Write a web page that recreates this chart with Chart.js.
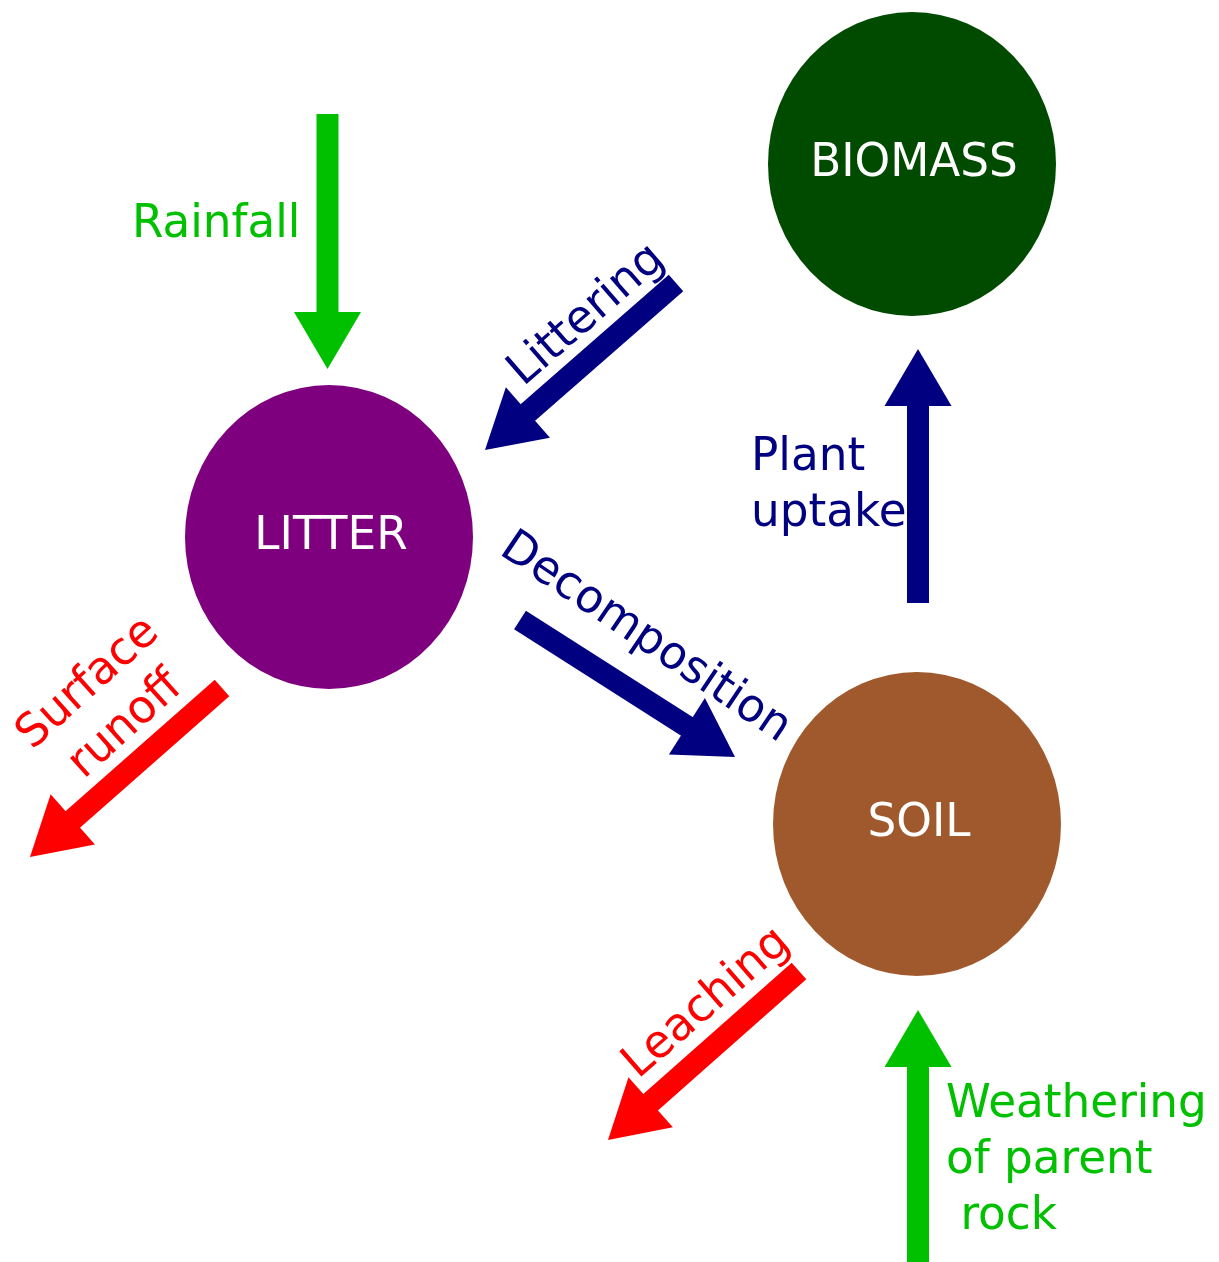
<!DOCTYPE html>
<html>
<head>
<meta charset="utf-8">
<script src="https://cdn.jsdelivr.net/npm/chart.js@4.4.1/dist/chart.umd.min.js"></script>
<style>
html,body{margin:0;padding:0;background:#fff;}
#wrap{width:1219px;height:1262px;}
</style>
</head>
<body>
<div id="wrap"><canvas id="cycle" width="1219" height="1262"></canvas></div>
<script>
// compartments of the nutrient cycle
const nodeNames = ["BIOMASS", "LITTER", "SOIL"];
const nodeX = [912, 329, 917];
const nodeY = [164, 537, 824];
const nodeColors = ["#014b01", "#7f007f", "#a0592d"];

// flows between compartments (tail -> tip)
const flowNames = ["Rainfall", "Littering", "Decomposition", "Plant uptake", "Surface runoff", "Leaching", "Weathering"];
const flowFromX = [327.5, 676, 520, 918, 222, 799, 918];
const flowFromY = [114, 283, 620, 603, 688, 971, 1262];
const flowToX = [327.5, 485, 735, 918, 30, 608, 918];
const flowToY = [369, 450, 757, 349, 857, 1140, 1010];
const flowColors = ["#00c000", "#000080", "#000080", "#000080", "#ff0000", "#ff0000", "#00c000"];

// flow captions
const labelLines = [["Rainfall"], ["Littering"], ["Decomposition"], ["Plant", "uptake"], ["Surface", "runoff"], ["Leaching"], ["Weathering", "of parent", " rock"]];
const labelX = [132, 584, 648, 751, 104, 704, 946];
const labelY = [237, 312, 634, 470, 701, 1000, 1117];
const labelAngle = [0, -41, 34, 0, -42, -41, 0];
const labelAlign = ["left", "center", "center", "left", "center", "center", "left"];

const FONT_SIZE = 46;
const FONT = FONT_SIZE + 'px "DejaVu Sans"';
const SQUEEZE = 0.985;
const LINE_H = 56;
const NODE_RX = 144, NODE_RY = 152;
const SHAFT_W = 22, HEAD_W = 67, HEAD_LEN = 57;

function shaftData(i) {
  const dx = flowToX[i] - flowFromX[i], dy = flowToY[i] - flowFromY[i];
  const len = Math.hypot(dx, dy);
  const cut = HEAD_LEN - 2;
  return [
    { x: flowFromX[i], y: flowFromY[i] },
    { x: flowToX[i] - dx / len * cut, y: flowToY[i] - dy / len * cut }
  ];
}

const shafts = flowNames.map((name, i) => ({
  label: name,
  type: "line",
  data: shaftData(i),
  borderColor: flowColors[i],
  borderWidth: SHAFT_W,
  borderCapStyle: "butt",
  pointRadius: 0,
  tension: 0,
  fill: false
}));

const diagram = {
  id: "diagram",
  beforeDatasetsDraw(chart) {
    const { ctx, scales: { x, y } } = chart;
    ctx.save();
    nodeNames.forEach((name, i) => {
      const cx = x.getPixelForValue(nodeX[i]);
      const cy = y.getPixelForValue(nodeY[i]);
      const rx = Math.abs(x.getPixelForValue(nodeX[i] + NODE_RX) - cx);
      const ry = Math.abs(y.getPixelForValue(nodeY[i] + NODE_RY) - cy);
      ctx.beginPath();
      ctx.ellipse(cx, cy, rx, ry, 0, 0, Math.PI * 2);
      ctx.fillStyle = nodeColors[i];
      ctx.fill();

      ctx.save();
      ctx.translate(cx + 2, cy + 12);
      ctx.scale(SQUEEZE, 1);
      ctx.font = FONT;
      ctx.fillStyle = "#fff";
      ctx.textAlign = "center";
      ctx.textBaseline = "alphabetic";
      ctx.fillText(name, 0, 0);
      ctx.restore();
    });
    ctx.restore();
  },
  afterDatasetsDraw(chart) {
    const { ctx, scales: { x, y } } = chart;
    ctx.save();
    // arrow heads
    flowNames.forEach((name, i) => {
      const tx = x.getPixelForValue(flowFromX[i]), ty = y.getPixelForValue(flowFromY[i]);
      const px = x.getPixelForValue(flowToX[i]), py = y.getPixelForValue(flowToY[i]);
      const len = Math.hypot(px - tx, py - ty);
      const ux = (px - tx) / len, uy = (py - ty) / len;
      const bx = px - ux * HEAD_LEN, by = py - uy * HEAD_LEN;
      const nx = -uy, ny = ux;
      ctx.beginPath();
      ctx.moveTo(bx + nx * HEAD_W / 2, by + ny * HEAD_W / 2);
      ctx.lineTo(px, py);
      ctx.lineTo(bx - nx * HEAD_W / 2, by - ny * HEAD_W / 2);
      ctx.closePath();
      ctx.fillStyle = flowColors[i];
      ctx.fill();
    });
    // captions
    labelLines.forEach((lines, i) => {
      ctx.save();
      ctx.translate(x.getPixelForValue(labelX[i]), y.getPixelForValue(labelY[i]));
      ctx.rotate(labelAngle[i] * Math.PI / 180);
      ctx.scale(SQUEEZE, 1);
      ctx.font = FONT;
      ctx.fillStyle = flowColors[i];
      ctx.textAlign = labelAlign[i];
      ctx.textBaseline = "alphabetic";
      let off = 0;
      if (labelAlign[i] === "center") off = 0.365 * FONT_SIZE - (lines.length - 1) * LINE_H / 2;
      lines.forEach((t, k) => ctx.fillText(t, 0, off + k * LINE_H));
      ctx.restore();
    });
    ctx.restore();
  }
};

new Chart(document.getElementById("cycle"), {
  type: "scatter",
  data: { datasets: shafts },
  options: {
    responsive: false,
    animation: false,
    devicePixelRatio: 1,
    layout: { padding: 0 },
    scales: {
      x: { type: "linear", min: 0, max: 1219, display: false },
      y: { type: "linear", min: 0, max: 1262, reverse: true, display: false }
    },
    plugins: {
      legend: { display: false },
      tooltip: { enabled: false }
    }
  },
  plugins: [diagram]
});
</script>
</body>
</html>
